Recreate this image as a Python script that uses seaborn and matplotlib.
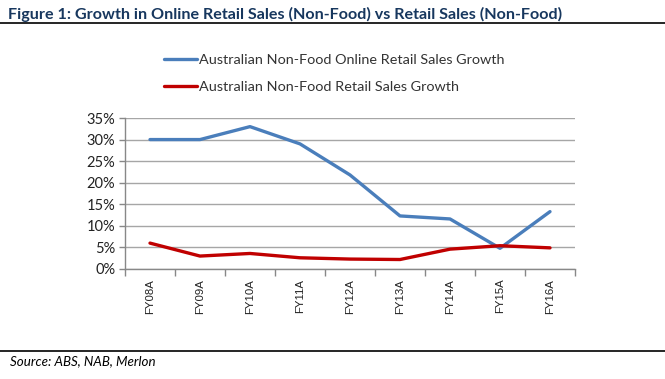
import pandas as pd
import numpy as np
import matplotlib.pyplot as plt
import seaborn as sns

years = ['FY08A', 'FY09A', 'FY10A', 'FY11A', 'FY12A', 'FY13A', 'FY14A', 'FY15A', 'FY16A']
online_growth = [30.0, 30.0, 33.0, 29.0, 21.8, 12.3, 11.6, 4.8, 13.3]
retail_growth = [6.0, 3.0, 3.6, 2.6, 2.3, 2.2, 4.6, 5.4, 4.9]
series_names = ['Australian Non-Food Online Retail Sales Growth',
                'Australian Non-Food Retail Sales Growth']

df = pd.DataFrame({
    'pos': list(range(len(years))) * 2,
    'growth': online_growth + retail_growth,
    'series': [series_names[0]] * len(years) + [series_names[1]] * len(years),
})

sns.set_style('white')
plt.rcParams['font.family'] = ['Lato', 'DejaVu Sans']

fig = plt.figure(figsize=(6.65, 3.79), dpi=100)
ax = fig.add_axes([125 / 665, 1 - 269 / 379, 450 / 665, 151 / 379])

sns.lineplot(data=df, x='pos', y='growth', hue='series',
             palette=['#4A7EBB', '#C00000'], linewidth=2.4, ax=ax, legend=False)

ax.set_xlim(-0.5, len(years) - 0.5)
ax.set_ylim(0, 35)
ax.set_yticks(np.arange(0, 36, 5))
ax.set_yticklabels([f'{v}%' for v in range(0, 36, 5)], fontsize=10.5, color='#222222')
ax.yaxis.grid(True, color='#A6A6A6', linewidth=1)
ax.set_axisbelow(True)
ax.tick_params(axis='y', length=4, color='#888888', width=1, pad=3, left=True)

# category boundaries as ticks, labels at the centres
ax.set_xticks(np.arange(-0.5, len(years), 1))
ax.set_xticklabels([])
ax.set_xticks(range(len(years)), minor=True)
ax.set_xticklabels(years, minor=True, rotation=90, fontsize=8.2, color='#222222',
                   family='Liberation Sans')
ax.tick_params(axis='x', which='major', length=5, color='#888888', width=1, bottom=True)
ax.tick_params(axis='x', which='minor', length=0, pad=7)
ax.set_xlabel('')
ax.set_ylabel('')

for side in ['top', 'right']:
    ax.spines[side].set_visible(False)
for side in ['left', 'bottom']:
    ax.spines[side].set_color('#888888')
    ax.spines[side].set_linewidth(1)

# legend drawn manually
handles = [plt.Line2D([0], [0], color=c, linewidth=2.4) for c in ['#4A7EBB', '#C00000']]
fig.legend(handles, series_names, loc='upper left', bbox_to_anchor=(151 / 665, 1 - 41 / 379),
           frameon=False, fontsize=10.4, handlelength=2.3, handletextpad=0.1,
           labelspacing=1.0, labelcolor='#333333')

fig.text(8 / 665, 1 - 14 / 379, 'Figure 1: Growth in Online Retail Sales (Non-Food) vs Retail Sales (Non-Food)',
         fontsize=11.6, fontweight='bold', color='#17375E', va='center', ha='left')
fig.add_artist(plt.Line2D([0, 1], [1 - 23 / 379, 1 - 23 / 379], color='black', linewidth=1.2))
fig.add_artist(plt.Line2D([0, 1], [1 - 351 / 379, 1 - 351 / 379], color='black', linewidth=1.2))
fig.text(10 / 665, 1 - 361 / 379, 'Source: ABS, NAB, Merlon', fontsize=9.6, style='italic',
         color='black', va='center', ha='left')

fig.savefig('out.png', dpi=100, facecolor='white')
